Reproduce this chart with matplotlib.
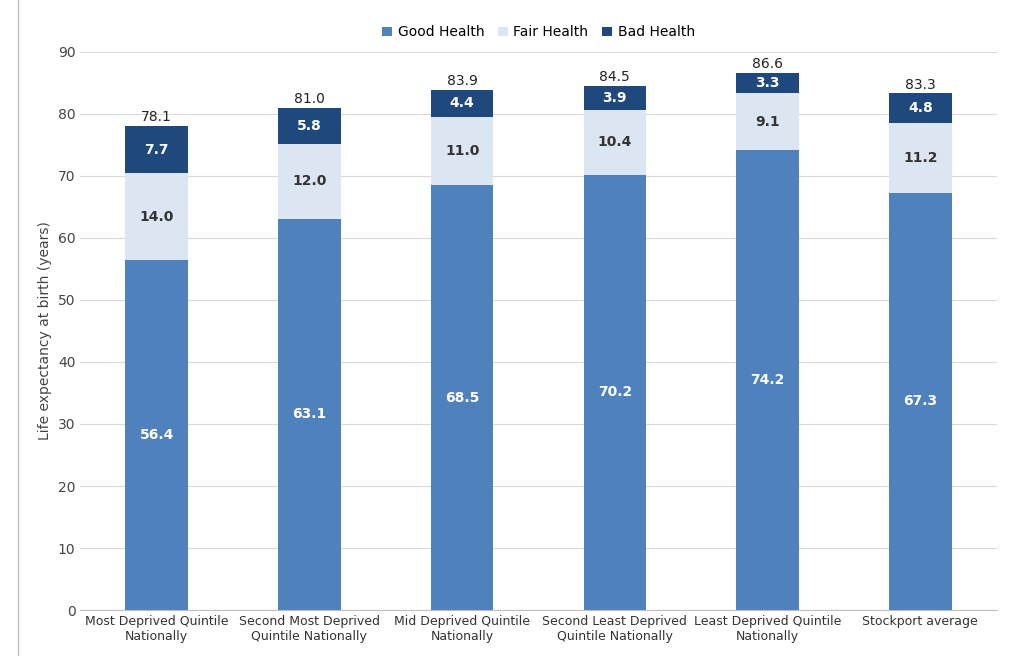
import numpy as np
import matplotlib.pyplot as plt

categories = ["Most Deprived Quintile\nNationally", "Second Most Deprived\nQuintile Nationally",
              "Mid Deprived Quintile\nNationally", "Second Least Deprived\nQuintile Nationally",
              "Least Deprived Quintile\nNationally", "Stockport average"]
good = [56.4, 63.1, 68.5, 70.2, 74.2, 67.3]
fair = [14.0, 12.0, 11.0, 10.4, 9.1, 11.2]
bad = [7.7, 5.8, 4.4, 3.9, 3.3, 4.8]
totals = [78.1, 81.0, 83.9, 84.5, 86.6, 83.3]

fig = plt.figure(figsize=(10.17, 6.56), dpi=100)
ax = fig.add_axes([0.079, 0.070, 0.901, 0.851])
x = np.arange(len(categories))
w = 0.41
good_arr = np.array(good)
fair_arr = np.array(fair)
b1 = ax.bar(x, good, w, color='#4F81BD', label='Good Health', zorder=3)
b2 = ax.bar(x, fair, w, bottom=good_arr, color='#DCE6F2', label='Fair Health', zorder=3)
b3 = ax.bar(x, bad, w, bottom=good_arr + fair_arr, color='#1F497D', label='Bad Health', zorder=3)

for i in range(len(x)):
    ax.text(x[i], good[i] / 2, f"{good[i]:.1f}", ha='center', va='center', color='white', fontsize=10, fontweight='bold', zorder=4)
    ax.text(x[i], good[i] + fair[i] / 2, f"{fair[i]:.1f}", ha='center', va='center', color='#333333', fontsize=10, fontweight='bold', zorder=4)
    ax.text(x[i], good[i] + fair[i] + bad[i] / 2, f"{bad[i]:.1f}", ha='center', va='center', color='white', fontsize=10, fontweight='bold', zorder=4)
    ax.text(x[i], good[i] + fair[i] + bad[i] + 0.3, f"{totals[i]:.1f}", ha='center', va='bottom', color='#222222', fontsize=10, zorder=4)

ax.set_ylim(0, 90)
ax.set_yticks(range(0, 91, 10))
ax.set_xlim(-0.5, len(x) - 0.5)
ax.set_xticks(x)
ax.set_xticklabels(categories, fontsize=9, color='#333333')
ax.tick_params(axis='y', labelsize=10, colors='#444444', length=0)
ax.tick_params(axis='x', length=0)
ax.set_ylabel('Life expectancy at birth (years)', fontsize=10, color='#444444')
ax.grid(axis='y', color='#D9D9D9', linewidth=0.8, zorder=0)
for s in ['top', 'right', 'left']:
    ax.spines[s].set_visible(False)
ax.spines['bottom'].set_color('#BFBFBF')
ax.legend(loc='lower center', bbox_to_anchor=(0.5, 1.0), ncol=3, frameon=False, fontsize=10,
          handlelength=0.7, handleheight=0.7, columnspacing=1.0, handletextpad=0.4)
fig.add_artist(plt.Line2D([0.018, 0.018], [0, 1], color='#BFBFBF', linewidth=1, transform=fig.transFigure))
fig.savefig('out.png', dpi=100)
